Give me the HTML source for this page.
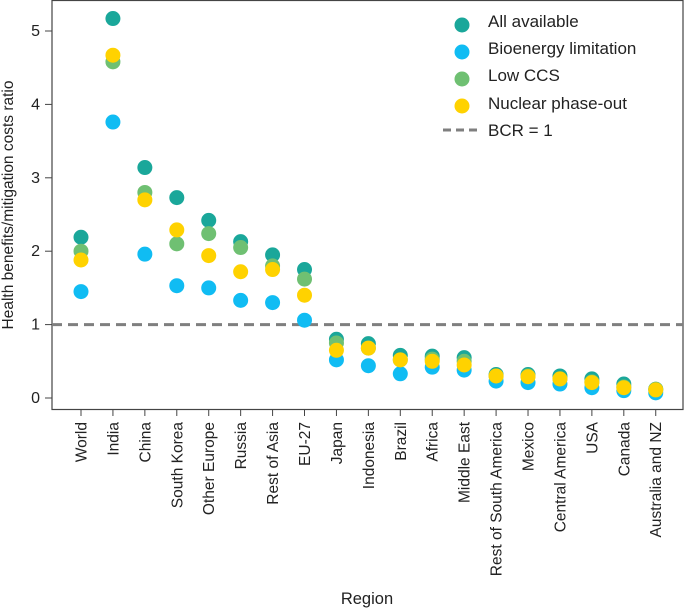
<!DOCTYPE html>
<html><head><meta charset="utf-8"><style>
body{margin:0;background:#fff}
svg text{font-family:"Liberation Sans",sans-serif;fill:#222}
</style></head><body>
<svg id="chart" width="685" height="609" xmlns="http://www.w3.org/2000/svg">
<rect x="52" y="0.5" width="631" height="409" fill="none" stroke="#444" stroke-width="1.2"/>
<g id="yaxis"></g>
<g id="xaxis"></g>
<line id="bcr" x1="52" x2="683" stroke="#7f7f7f" stroke-width="3" stroke-dasharray="10,6"/>
<g id="points"></g>
<text transform="translate(13,205) rotate(-90)" text-anchor="middle" font-size="15.5">Health benefits/mitigation costs ratio</text>
<text x="367" y="604" text-anchor="middle" font-size="16.5">Region</text>
<g font-size="17">
<circle cx="462" cy="25" r="7.5" fill="#1aa79a"/><text x="488" y="27">All available</text>
<circle cx="462" cy="52" r="7.5" fill="#10bcf3"/><text x="488" y="54">Bioenergy limitation</text>
<circle cx="462" cy="79" r="7.5" fill="#6fc072"/><text x="488" y="81">Low CCS</text>
<circle cx="462" cy="106" r="7.5" fill="#ffd200"/><text x="488" y="109">Nuclear phase-out</text>
<line x1="443" x2="482" y1="130" y2="130" stroke="#7f7f7f" stroke-width="3" stroke-dasharray="8,5"/><text x="488" y="136">BCR = 1</text>
</g>
</svg>
<script>
const categories=["World","India","China","South Korea","Other Europe","Russia","Rest of Asia","EU-27","Japan","Indonesia","Brazil","Africa","Middle East","Rest of South America","Mexico","Central America","USA","Canada","Australia and NZ"];
const allAvailable=[2.19,5.17,3.14,2.73,2.42,2.13,1.95,1.75,0.8,0.74,0.58,0.57,0.55,0.32,0.32,0.3,0.26,0.19,0.12];
const bioLimit=[1.45,3.76,1.96,1.53,1.5,1.33,1.3,1.06,0.52,0.44,0.33,0.42,0.38,0.23,0.21,0.19,0.14,0.1,0.07];
const lowCCS=[2.0,4.58,2.8,2.1,2.24,2.05,1.8,1.62,0.75,0.68,0.52,0.53,0.5,0.3,0.3,0.26,0.22,0.15,0.12];
const nuclear=[1.88,4.67,2.7,2.29,1.94,1.72,1.75,1.4,0.65,0.68,0.52,0.5,0.45,0.3,0.29,0.26,0.21,0.14,0.11];
const yTicks=[0,1,2,3,4,5];
const bcrValue=1;
const NS="http://www.w3.org/2000/svg";
const y=v=>398-v*73.4;
const x=i=>81+i*31.93;
const ya=document.getElementById('yaxis');
yTicks.forEach(t=>{
 const l=document.createElementNS(NS,'line');
 
 
 l.setAttribute('x1',45);l.setAttribute('x2',52);l.setAttribute('y1',y(t));l.setAttribute('y2',y(t));l.setAttribute('stroke','#444');
 ya.appendChild(l);
 const tx=document.createElementNS(NS,'text');
 
 
 tx.setAttribute('x',40);tx.setAttribute('y',y(t)+5);tx.setAttribute('text-anchor','end');tx.setAttribute('font-size','16');
 tx.textContent=t;ya.appendChild(tx);
});
const xa=document.getElementById('xaxis');
categories.forEach((c,i)=>{
 const l=document.createElementNS(NS,'line');
 
 
 l.setAttribute('x1',x(i));l.setAttribute('x2',x(i));l.setAttribute('y1',409);l.setAttribute('y2',416);l.setAttribute('stroke','#444');
 xa.appendChild(l);
 const tx=document.createElementNS(NS,'text');
 
 
 tx.setAttribute('transform',`translate(${x(i)+5.5},422) rotate(-90)`);tx.setAttribute('text-anchor','end');tx.setAttribute('font-size','15.5');
 tx.textContent=c;xa.appendChild(tx);
});
const b=document.getElementById('bcr');b.setAttribute('y1',y(bcrValue));b.setAttribute('y2',y(bcrValue));
const pg=document.getElementById('points');
[[allAvailable,'#1aa79a','all'],[bioLimit,'#10bcf3','bio'],[lowCCS,'#6fc072','ccs'],[nuclear,'#ffd200','nuc']].forEach(([arr,col,n])=>{
 arr.forEach((v,i)=>{
  const c=document.createElementNS(NS,'circle');
  
  
  c.setAttribute('cx',x(i));c.setAttribute('cy',y(v));c.setAttribute('r',7.5);c.setAttribute('fill',col);
  pg.appendChild(c);
 });
});
</script>
</body></html>
